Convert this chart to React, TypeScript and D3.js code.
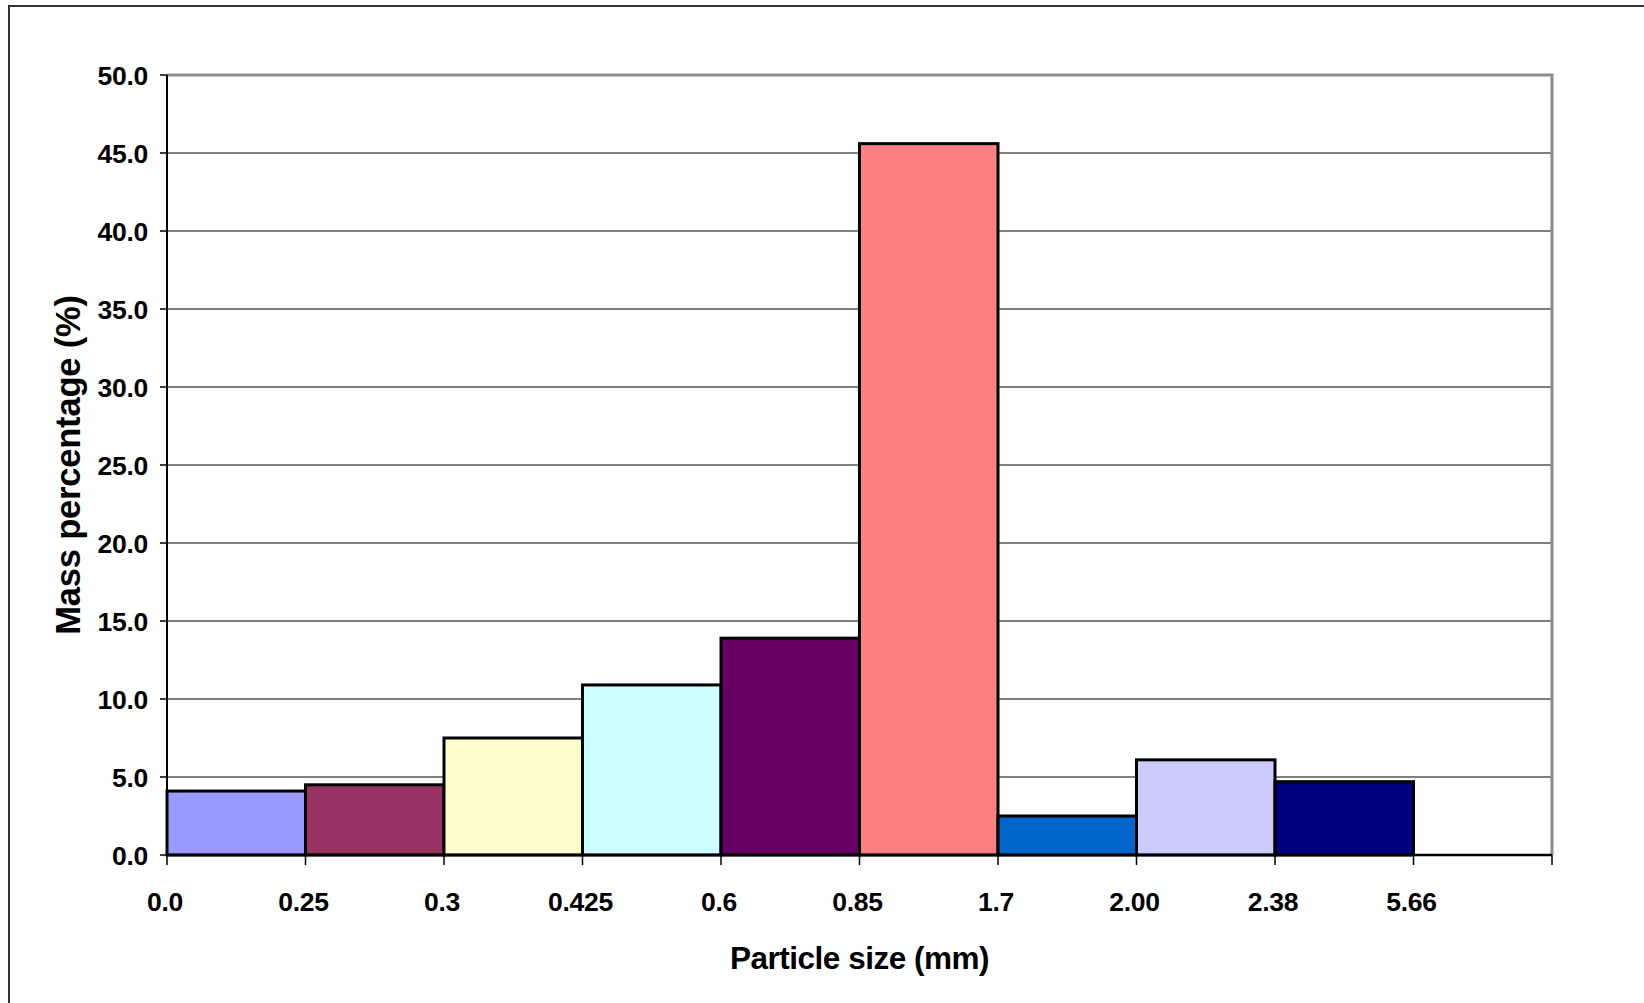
import React from "react";
import * as d3 from "d3";

// Sieve fractions (lower bound of each size class, mm)
const sizeLabels = ["0.0", "0.25", "0.3", "0.425", "0.6", "0.85", "1.7", "2.00", "2.38", "5.66"];
// Mass share retained in each class (%)
const massValues = [4.1, 4.5, 7.5, 10.9, 13.9, 45.6, 2.5, 6.1, 4.7];
const barColors = ["#9999FF", "#993366", "#FFFFCC", "#CCFFFF", "#660066", "#FF8080", "#0066CC", "#CCCCFF", "#000080"];
const yTicks = [0, 5, 10, 15, 20, 25, 30, 35, 40, 45, 50];

const W = 1644;
const H = 1003;
const plot = { left: 167, right: 1552, top: 75, bottom: 855 };
const FONT = "'Liberation Sans', Arial, Helvetica, sans-serif";

export default function App() {
  const slots = d3.range(sizeLabels.length);
  const x = d3.scaleBand<number>().domain(slots).range([plot.left, plot.right]).paddingInner(0).paddingOuter(0);
  const y = d3.scaleLinear().domain([0, 50]).range([plot.bottom, plot.top]);
  const fmt = d3.format(".1f");
  const bw = x.bandwidth();
  const tickXs = [...slots.map((i) => x(i) as number), plot.right];

  return (
    <svg
      width={W}
      height={H}
      style={{ position: "absolute", left: 0, top: 0, display: "block", background: "#fff" }}
      fontFamily={FONT}
    >
      {/* chart frame */}
      <rect x={9} y={6} width={W + 20} height={H + 20} fill="#fff" stroke="#333" strokeWidth={2} />

      {/* horizontal gridlines */}
      {yTicks.slice(1, -1).map((t) => (
        <line key={"g" + t} x1={plot.left} x2={plot.right} y1={y(t)} y2={y(t)} stroke="#000" strokeWidth={1.2} />
      ))}

      {/* plot area top/right border */}
      <polyline
        points={`${plot.left},${plot.top} ${plot.right},${plot.top} ${plot.right},${plot.bottom}`}
        fill="none"
        stroke="#8c8c8c"
        strokeWidth={3}
      />

      {/* bars */}
      {massValues.map((v, i) => (
        <rect
          key={"b" + i}
          x={x(i) as number}
          y={y(v)}
          width={bw}
          height={y(0) - y(v)}
          fill={barColors[i]}
          stroke="#000"
          strokeWidth={3}
        />
      ))}

      {/* y axis */}
      <line x1={plot.left} x2={plot.left} y1={plot.top} y2={plot.bottom} stroke="#000" strokeWidth={2} />
      {yTicks.map((t) => (
        <g key={"yt" + t}>
          <line x1={plot.left - 7} x2={plot.left} y1={y(t)} y2={y(t)} stroke="#000" strokeWidth={1.5} />
          <text
            x={plot.left - 19}
            y={y(t)}
            dy="0.36em"
            textAnchor="end"
            fontSize={26.5}
            fontWeight="bold"
            letterSpacing={-0.3}
          >
            {fmt(t)}
          </text>
        </g>
      ))}

      {/* x axis */}
      <line x1={plot.left} x2={plot.right} y1={plot.bottom} y2={plot.bottom} stroke="#000" strokeWidth={2.5} />
      {tickXs.map((tx, i) => (
        <line key={"xt" + i} x1={tx} x2={tx} y1={plot.bottom} y2={plot.bottom + 10} stroke="#000" strokeWidth={1.5} />
      ))}
      {sizeLabels.map((lab, i) => (
        <text
          key={"xl" + i}
          x={(x(i) as number) - 2}
          y={911}
          textAnchor="middle"
          fontSize={26.5}
          fontWeight="bold"
          letterSpacing={-0.3}
        >
          {lab}
        </text>
      ))}

      {/* axis titles */}
      <text
        x={(plot.left + plot.right) / 2}
        y={969}
        textAnchor="middle"
        fontSize={31.5}
        fontWeight="bold"
        letterSpacing={-0.5}
      >
        Particle size (mm)
      </text>
      <text
        transform={`translate(80, 465) rotate(-90)`}
        textAnchor="middle"
        fontSize={34.5}
        fontWeight="bold"
        letterSpacing={-0.2}
      >
        Mass percentage (%)
      </text>
    </svg>
  );
}
